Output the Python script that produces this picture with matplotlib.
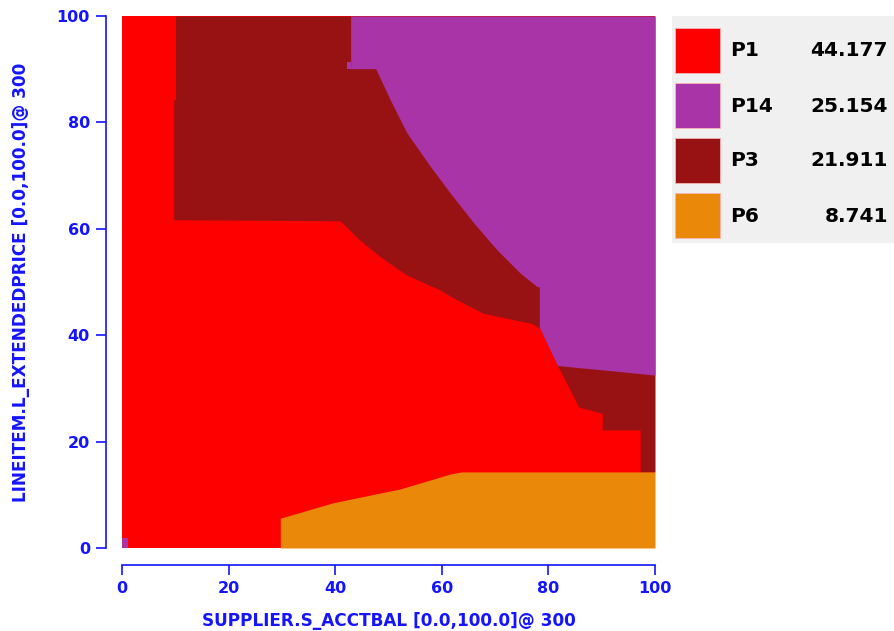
import matplotlib
matplotlib.use("Agg")
import matplotlib.pyplot as plt
from matplotlib.patches import Rectangle

plt.rcParams['font.family'] = ['DejaVu Sans']

# ---- data (region boundaries) ----
plan_names = ["P1", "P14", "P3", "P6"]
plan_values = ["44.177", "25.154", "21.911", "8.741"]
plan_colors = ["#FF0000", "#A934A7", "#981214", "#EA8809"]

# P3: above the P1 top boundary
p3_x = [9.7, 40.9, 44.6, 48.4, 53.4, 59.7, 62.2, 67.8, 76.9, 78.4, 81.7, 85.7, 90.1, 90.1, 97.2, 97.2, 100.0]
p3_low = [61.7, 61.5, 57.9, 54.8, 51.3, 48.5, 47.0, 44.1, 42.2, 41.3, 34.3, 26.5, 25.3, 22.2, 22.2, 14.3, 14.3]

# P1 notch at top of left strip
p1n_x = [9.7, 10.1]
p1n_low = [84.3, 84.3]

# P14: above its lower boundary
p14_x = [42.9, 47.6, 50.3, 53.4, 57.8, 61.6, 66.0, 70.4, 74.8, 77.9, 78.3, 78.3, 81.7, 91.0, 100.0]
p14_low = [90.1, 90.1, 84.3, 78.1, 71.8, 66.7, 61.1, 56.0, 51.6, 49.1, 49.1, 41.5, 34.3, 33.4, 32.5]
p14n_x = [42.3, 42.9]
p14n_low = [90.1, 90.1]
p14n_high = [91.4, 91.4]
p14c_x = [0.0, 1.2]
p14c_high = [1.8, 1.8]

# P6: below its upper boundary
p6_x = [29.7, 39.6, 52.2, 61.6, 63.7, 100.0]
p6_high = [5.6, 8.5, 11.1, 13.9, 14.3, 14.3]

blue = "#1414FF"

fig = plt.figure(figsize=(8.94, 6.31), dpi=100)
ax = fig.add_axes([122/894, 1 - 548/631, 533/894, 532/631])

ax.fill_between([0, 100], [0, 0], [100, 100], color=plan_colors[0], lw=0)
ax.fill_between(p3_x, p3_low, 100, color=plan_colors[2], lw=0)
ax.fill_between(p1n_x, p1n_low, 100, color=plan_colors[0], lw=0)
ax.fill_between(p14_x, p14_low, 100, color=plan_colors[1], lw=0)
ax.fill_between(p14n_x, p14n_low, p14n_high, color=plan_colors[1], lw=0)
ax.fill_between(p14c_x, 0, p14c_high, color=plan_colors[1], lw=0)
ax.fill_between(p6_x, 0, p6_high, color=plan_colors[3], lw=0)

ax.set_xlim(0, 100)
ax.set_ylim(0, 100)
for s in ["top", "right"]:
    ax.spines[s].set_visible(False)
ax.spines["left"].set_position(("outward", 11.5))
ax.spines["bottom"].set_position(("outward", 12.5))
ax.spines["left"].set_bounds(0, 100)
ax.spines["bottom"].set_bounds(0, 100)
for s in ["left", "bottom"]:
    ax.spines[s].set_color(blue)
    ax.spines[s].set_linewidth(1.2)
ax.set_xticks([0, 20, 40, 60, 80, 100])
ax.set_yticks([0, 20, 40, 60, 80, 100])
ax.tick_params(axis="both", colors=blue, length=7, width=1.2, labelsize=11.5, pad=4.5)
for lab in ax.get_xticklabels() + ax.get_yticklabels():
    lab.set_fontweight("bold")
ax.set_xlabel("SUPPLIER.S_ACCTBAL [0.0,100.0]@ 300", color=blue, fontsize=12.2,
              fontweight="bold", labelpad=11)
ax.set_ylabel("LINEITEM.L_EXTENDEDPRICE [0.0,100.0]@ 300", color=blue, fontsize=12.2,
              fontweight="bold", labelpad=19)

# ---- legend panel ----
lax = fig.add_axes([672/894, 1 - 243/631, 222/894, 227/631])
lax.set_xlim(0, 222)
lax.set_ylim(227, 0)
lax.axis("off")
lax.add_patch(Rectangle((0, 0), 222, 227, facecolor="#F0F0F0", edgecolor="none"))
for i, (n, v, c) in enumerate(zip(plan_names, plan_values, plan_colors)):
    y0 = 12 + 55 * i
    lax.add_patch(Rectangle((3, y0), 45, 45, facecolor=c, edgecolor="#F5B5B5", lw=0.6))
    lax.text(58, y0 + 23, n, fontsize=14.5, fontweight="bold", va="center", ha="left")
    lax.text(216, y0 + 23, v, fontsize=14.5, fontweight="bold", va="center", ha="right")

fig.savefig("out.png", dpi=100)
